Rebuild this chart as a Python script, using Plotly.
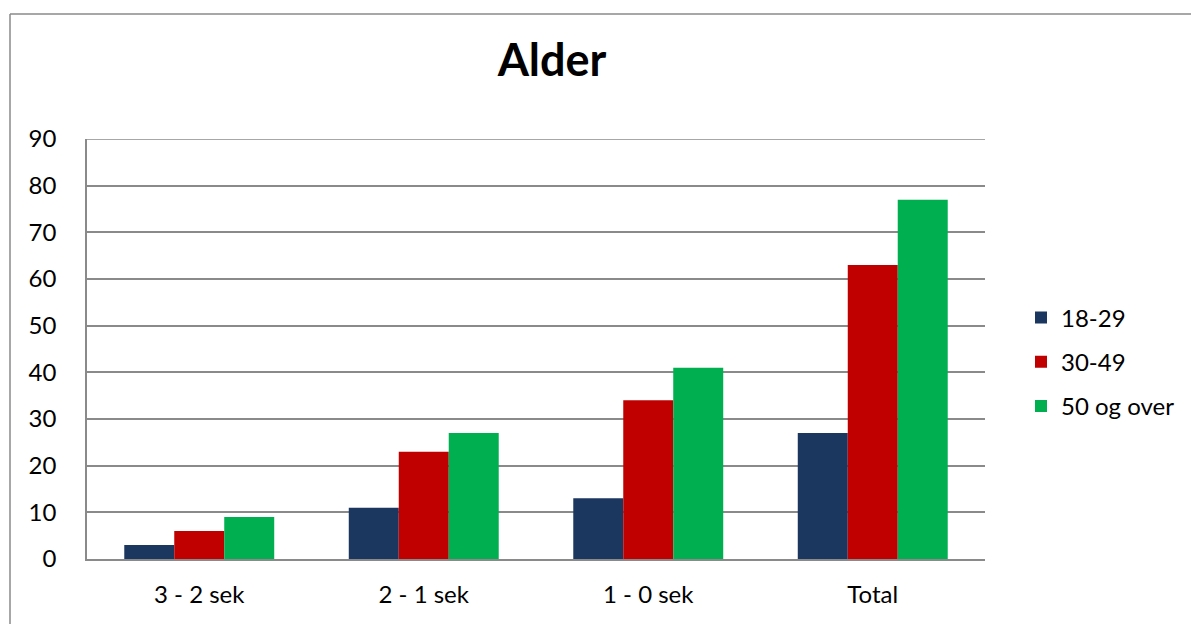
import plotly.graph_objects as go

categories = ["3 - 2 sek", "2 - 1 sek", "1 - 0 sek", "Total"]
series_names = ["18-29", "30-49", "50 og over"]
values_18_29 = [3, 11, 13, 27]
values_30_49 = [6, 23, 34, 63]
values_50_over = [9, 27, 41, 77]
colors = ["#1b375f", "#c00000", "#00b050"]
y_ticks = [0, 10, 20, 30, 40, 50, 60, 70, 80, 90]

FONT = "Lato, 'Open Sans', sans-serif"
W, H = 1191, 624
L, R, T, B = 87, 985, 139, 559

fig = go.Figure()
for i, (name, vals) in enumerate(zip(series_names, [values_18_29, values_30_49, values_50_over])):
    fig.add_trace(go.Bar(
        x=categories, y=vals, name=name,
        marker=dict(color=colors[i], line=dict(width=0)),
        legendgroup=name,
    ))

def px_x(p):
    return (p - L) / (R - L)

def px_y(p):
    return (B - p) / (B - T)

GRID = "#8a8a8a"

fig.update_layout(
    width=W, height=H,
    margin=dict(l=L, r=W - R, t=T, b=H - B, pad=0, autoexpand=False),
    paper_bgcolor="white", plot_bgcolor="white",
    barmode="group", bargap=0.332, bargroupgap=0,
    font=dict(family=FONT, size=24, color="#000000"),
    title=dict(text="<b>Alder</b>", x=552 / W, xref="container", xanchor="center",
               y=1 - 60 / H, yref="container", yanchor="middle",
               font=dict(family=FONT, size=45, color="#000000")),
    legend=dict(x=px_x(1021), xanchor="left", y=px_y(362), yanchor="middle",
                font=dict(family=FONT, size=24, color="#000000"),
                tracegroupgap=10, traceorder="grouped", itemwidth=30,
                bgcolor="rgba(0,0,0,0)"),
    showlegend=True,
    xaxis=dict(showgrid=False, showline=True, linecolor=GRID, linewidth=1.5,
               ticks="", tickfont=dict(family=FONT, size=24), ticklabelstandoff=13,
               fixedrange=True),
    yaxis=dict(range=[0, 90], tickvals=y_ticks, showgrid=True, gridcolor=GRID,
               gridwidth=1.5, showline=True, linecolor=GRID, linewidth=1.5,
               ticks="", zeroline=False, tickfont=dict(family=FONT, size=24),
               ticklabelstandoff=24, fixedrange=True),
    shapes=[
        dict(type="line", xref="paper", yref="y", x0=0, x1=1,
             y0=y_ticks[-1], y1=y_ticks[-1], line=dict(color=GRID, width=1.5), layer="below"),
        dict(type="line", xref="paper", yref="paper", x0=px_x(10), x1=px_x(1200),
             y0=px_y(14), y1=px_y(14), line=dict(color=GRID, width=1.5)),
        dict(type="line", xref="paper", yref="paper", x0=px_x(10), x1=px_x(10),
             y0=px_y(14), y1=px_y(640), line=dict(color=GRID, width=1.5)),
    ],
)

fig.write_html("out.html")
